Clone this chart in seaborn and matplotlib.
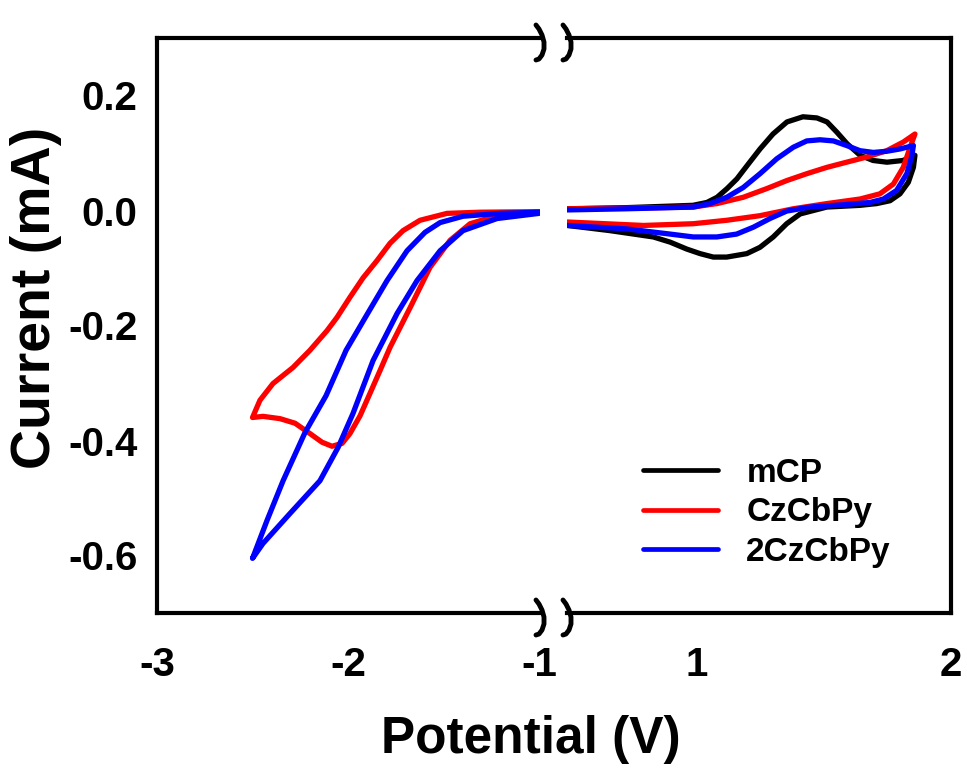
import numpy as np
import pandas as pd
import matplotlib
matplotlib.use("Agg")
import matplotlib.pyplot as plt
from matplotlib.lines import Line2D
import seaborn as sns

# ---------------- data ----------------
compounds = ["mCP", "CzCbPy", "2CzCbPy"]
colors = ["#000000", "#ff0000", "#0000ff"]
y_ticks = [-0.6, -0.4, -0.2, 0.0, 0.2]
x_ticks_left = [-3, -2, -1]
x_ticks_right = [1, 2]

# Left (reduction) region
czcbpy_left_v = [-1.00, -1.309, -1.482, -1.623, -1.712, -1.780, -1.848, -1.921, -1.990, -2.058,
                 -2.110, -2.199, -2.288, -2.393, -2.461, -2.500,
                 -2.445, -2.356, -2.277, -2.199, -2.136, -2.084, -2.031, -1.990, -1.937, -1.885,
                 -1.832, -1.780, -1.675, -1.571, -1.466, -1.361, -1.220, -1.00]
czcbpy_left_i = [-0.002, -0.003, -0.005, -0.017, -0.035, -0.057, -0.087, -0.117, -0.151, -0.186,
                 -0.209, -0.243, -0.273, -0.301, -0.330, -0.360,
                 -0.358, -0.362, -0.370, -0.388, -0.403, -0.410, -0.405, -0.388, -0.357, -0.318,
                 -0.278, -0.238, -0.169, -0.099, -0.052, -0.023, -0.009, -0.003]

cz2_left_v = [-1.00, -1.204, -1.398, -1.518, -1.597, -1.691, -1.796, -1.906, -2.010, -2.115,
              -2.225, -2.340, -2.424, -2.500,
              -2.445, -2.304, -2.147, -2.052, -1.974, -1.869, -1.743, -1.639, -1.518, -1.398,
              -1.220, -1.00]
cz2_left_i = [-0.003, -0.005, -0.010, -0.021, -0.038, -0.070, -0.122, -0.184, -0.243, -0.322,
              -0.386, -0.470, -0.539, -0.605,
              -0.579, -0.527, -0.470, -0.412, -0.353, -0.261, -0.179, -0.122, -0.070, -0.035,
              -0.014, -0.005]

# Right (oxidation) region
mcp_right_v = [0.49, 0.724, 0.984, 1.039, 1.079, 1.118, 1.157, 1.197, 1.248, 1.299, 1.354, 1.417,
               1.472, 1.512, 1.551, 1.591, 1.642, 1.693, 1.748, 1.811, 1.858,
               1.852, 1.832, 1.799, 1.760, 1.707, 1.642, 1.511, 1.406, 1.353, 1.300, 1.248, 1.196,
               1.117, 1.064, 1.012, 0.959, 0.894, 0.828, 0.657, 0.49]
mcp_right_i = [0.003, 0.005, 0.009, 0.014, 0.023, 0.038, 0.055, 0.078, 0.107, 0.133, 0.154, 0.163,
               0.161, 0.154, 0.136, 0.116, 0.096, 0.087, 0.084, 0.087, 0.096,
               0.075, 0.049, 0.029, 0.017, 0.012, 0.009, 0.006, -0.006, -0.023, -0.046, -0.064, -0.075,
               -0.081, -0.081, -0.075, -0.067, -0.055, -0.046, -0.035, -0.026]

czcbpy_right_v = [0.49, 0.723, 0.985, 1.078, 1.182, 1.274, 1.353, 1.432, 1.511, 1.589, 1.668, 1.747,
                  1.812, 1.858,
                  1.839, 1.812, 1.773, 1.720, 1.642, 1.511, 1.379, 1.248, 1.117, 0.985, 0.789, 0.49]
czcbpy_right_i = [0.003, 0.004, 0.006, 0.012, 0.023, 0.038, 0.052, 0.064, 0.075, 0.084, 0.093, 0.104,
                  0.119, 0.133,
                  0.110, 0.075, 0.046, 0.029, 0.020, 0.012, 0.003, -0.009, -0.017, -0.023, -0.026, -0.020]

cz2_right_v = [0.49, 0.723, 0.985, 1.051, 1.117, 1.182, 1.248, 1.314, 1.379, 1.432, 1.484, 1.537,
               1.589, 1.642, 1.694, 1.747, 1.799, 1.852,
               1.845, 1.826, 1.786, 1.734, 1.681, 1.576, 1.445, 1.353, 1.287, 1.222, 1.156, 1.078,
               0.985, 0.894, 0.723, 0.49]
cz2_right_i = [0.001, 0.003, 0.006, 0.012, 0.023, 0.040, 0.064, 0.090, 0.110, 0.121, 0.123, 0.121,
               0.113, 0.104, 0.101, 0.103, 0.107, 0.113,
               0.093, 0.064, 0.035, 0.020, 0.014, 0.010, 0.006, -0.001, -0.014, -0.029, -0.041, -0.046,
               -0.046, -0.041, -0.032, -0.026]

# ---------------- build tables ----------------
def frame(v, i, name):
    return pd.DataFrame({"Potential": v, "Current": i, "Compound": name})

df_left = pd.concat([frame(czcbpy_left_v, czcbpy_left_i, "CzCbPy"),
                     frame(cz2_left_v, cz2_left_i, "2CzCbPy")], ignore_index=True)
df_right = pd.concat([frame(mcp_right_v, mcp_right_i, "mCP"),
                      frame(czcbpy_right_v, czcbpy_right_i, "CzCbPy"),
                      frame(cz2_right_v, cz2_right_i, "2CzCbPy")], ignore_index=True)
palette = dict(zip(compounds, colors))

# ---------------- style ----------------
sns.set_theme(style="white")
plt.rcParams["font.family"] = ["Liberation Sans", "DejaVu Sans"]
plt.rcParams["font.weight"] = "bold"
plt.rcParams["axes.labelweight"] = "bold"
plt.rcParams["text.color"] = "black"
plt.rcParams["axes.labelcolor"] = "black"
plt.rcParams["xtick.color"] = "black"
plt.rcParams["ytick.color"] = "black"

W, H = 967, 769
fig = plt.figure(figsize=(W / 100, H / 100), dpi=100)
fig.patch.set_facecolor("white")

top_px, bot_px = 38, 613
l_left, l_right = 157, 540
r_left, r_right = 567, 951
ax_l = fig.add_axes([l_left / W, 1 - bot_px / H, (l_right - l_left) / W, (bot_px - top_px) / H])
ax_r = fig.add_axes([r_left / W, 1 - bot_px / H, (r_right - r_left) / W, (bot_px - top_px) / H])

lw = 3.8
line_kw = dict(sort=False, estimator=None, linewidth=lw, legend=False,
               solid_capstyle="round", solid_joinstyle="round")
sns.lineplot(data=df_left, x="Potential", y="Current", hue="Compound",
             hue_order=["CzCbPy", "2CzCbPy"], palette=palette, ax=ax_l, **line_kw)
sns.lineplot(data=df_right, x="Potential", y="Current", hue="Compound",
             hue_order=compounds, palette=palette, ax=ax_r, **line_kw)

for ax in (ax_l, ax_r):
    ax.set_ylim(-0.7, 0.3)
    ax.set_xlabel("")
    ax.set_ylabel("")
    ax.set_facecolor("white")
    for s in ax.spines.values():
        s.set_linewidth(3)
        s.set_color("black")
    ax.tick_params(axis="both", direction="in", length=7, width=2, colors="black",
                   labelsize=29)

ax_l.set_xlim(-3, -0.995)
ax_r.set_xlim(0.488, 2.0)
ax_l.set_xticks(x_ticks_left)
ax_l.set_xticklabels([str(t) for t in x_ticks_left], fontweight="bold", color="black")
ax_r.set_xticks(x_ticks_right)
ax_r.set_xticklabels([str(t) for t in x_ticks_right], fontweight="bold", color="black")
ax_l.set_yticks(y_ticks)
ax_l.set_yticklabels([f"{t:.1f}" for t in y_ticks], fontweight="bold", color="black")
ax_l.tick_params(axis="x", pad=24)
ax_r.tick_params(axis="x", pad=24)
ax_l.tick_params(axis="y", pad=14)
ax_r.tick_params(axis="y", left=False, labelleft=False)
ax_l.spines["right"].set_visible(False)
ax_r.spines["left"].set_visible(False)

# axis-break squiggles (figure pixels)
sq_dx = np.array([-4, -1, 2, 4, 4, 2, -1, -4])
sq_dy = np.array([-13, -9, -3, 4, 11, 17, 21, 22])
for x0 in (l_right, r_left):
    for y0 in (top_px, bot_px):
        xs = (x0 + sq_dx) / W
        ys = 1 - (y0 + sq_dy) / H
        fig.add_artist(Line2D(xs, ys, transform=fig.transFigure, color="black", lw=3.5,
                              solid_capstyle="round", solid_joinstyle="round"))

# axis labels
fig.text(531 / W, 1 - 740 / H, "Potential (V)", ha="center", va="center",
         fontsize=37, fontweight="bold", color="black")
fig.text(36 / W, 1 - 298 / H, "Current (mA)", ha="center", va="center", rotation=90,
         fontsize=40, fontweight="bold", color="black")

# legend
handles = [Line2D([], [], color=c, lw=3.4, solid_capstyle="round") for c in colors]
leg = ax_r.legend(handles, compounds, loc="center left",
                  bbox_to_anchor=(613 / W, 1 - 513 / H), bbox_transform=fig.transFigure,
                  frameon=False, handlelength=2.25, handletextpad=0.85, labelspacing=0.25,
                  prop={"size": 24, "weight": "bold"})
for t in leg.get_texts():
    t.set_color("black")

fig.savefig("out.png", dpi=100, facecolor="white")
